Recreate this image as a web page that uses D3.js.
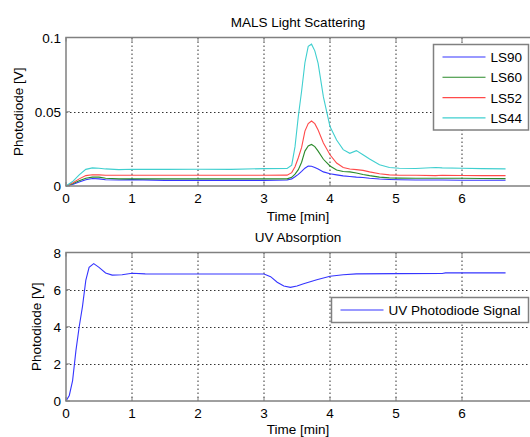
<!DOCTYPE html>
<html>
<head>
<meta charset="utf-8">
<script src="https://cdn.jsdelivr.net/npm/d3@7"></script>
<style>
  body { margin: 0; background: #fff; }
  svg { display: block; font-family: "Liberation Sans", Arial, sans-serif; }
  text { fill: #000; }
</style>
</head>
<body>
<svg id="chart" width="530" height="437"></svg>
<script>
// MALS light scattering (top panel)
var tMals = [0, 0.1, 0.2, 0.3, 0.4, 0.5, 0.6, 0.8, 1.0, 1.5, 2.0, 2.5, 3.0, 3.35, 3.42, 3.47, 3.52, 3.57, 3.62, 3.67,
             3.72, 3.77, 3.82, 3.9, 4.0, 4.1, 4.2, 4.3, 4.4, 4.5, 4.6, 4.75, 4.9, 5.05, 5.3, 5.6, 5.7, 6.0, 6.3, 6.66];
var ls90 = [0, 0.001, 0.0027, 0.0042, 0.005, 0.0048, 0.0042, 0.004, 0.0043, 0.0038, 0.0038, 0.0038, 0.0038, 0.004, 0.0048, 0.0062, 0.0078, 0.0098, 0.012, 0.0135,
            0.0133, 0.0125, 0.0115, 0.0095, 0.0082, 0.0075, 0.0068, 0.0064, 0.006, 0.0057, 0.0052, 0.0047, 0.0044, 0.0042, 0.004, 0.004, 0.004, 0.0039, 0.0039, 0.0039];
var ls60 = [0, 0.0015, 0.0035, 0.0052, 0.006, 0.006, 0.0052, 0.0048, 0.0048, 0.0048, 0.0048, 0.0048, 0.0048, 0.0048, 0.0058, 0.008, 0.011, 0.016, 0.0235, 0.027,
            0.028, 0.0265, 0.0235, 0.018, 0.0135, 0.0108, 0.0098, 0.0095, 0.0088, 0.0078, 0.007, 0.006, 0.0055, 0.0053, 0.0052, 0.0052, 0.0052, 0.0052, 0.005, 0.005];
var ls52 = [0, 0.002, 0.0048, 0.007, 0.0076, 0.0075, 0.0072, 0.0072, 0.0072, 0.0072, 0.0072, 0.0072, 0.0072, 0.0073, 0.009, 0.013, 0.019, 0.026, 0.037, 0.042,
            0.0438, 0.042, 0.0377, 0.029, 0.021, 0.0155, 0.0125, 0.0115, 0.011, 0.0105, 0.0095, 0.0082, 0.0075, 0.0072, 0.0072, 0.007, 0.0072, 0.0071, 0.007, 0.007];
var ls44 = [0, 0.003, 0.0075, 0.0112, 0.0122, 0.012, 0.0115, 0.011, 0.0113, 0.0112, 0.0113, 0.0112, 0.0117, 0.0118, 0.014, 0.0265, 0.047, 0.064, 0.083, 0.094,
            0.0955, 0.091, 0.0826, 0.060, 0.040, 0.031, 0.0245, 0.022, 0.0238, 0.021, 0.0182, 0.0143, 0.0125, 0.012, 0.0118, 0.0125, 0.0122, 0.012, 0.0117, 0.0115];
var malsNames = ["LS90", "LS60", "LS52", "LS44"];
var malsColors = ["#3535ff", "#2a8a2a", "#ff4a4a", "#3fcfcf"];

// UV absorption (bottom panel)
var tUv = [0, 0.05, 0.1, 0.15, 0.2, 0.25, 0.3, 0.35, 0.42, 0.5, 0.6, 0.7, 0.85, 1.0, 1.2, 1.5, 2.0, 2.5, 3.0,
           3.1, 3.2, 3.3, 3.4, 3.5, 3.6, 3.8, 4.0, 4.2, 4.4, 5.0, 5.7, 5.75, 6.66];
var uv = [0, 0.3, 1.1, 2.7, 4.0, 5.1, 6.5, 7.2, 7.4, 7.2, 6.9, 6.78, 6.8, 6.88, 6.85, 6.84, 6.84, 6.84, 6.84,
          6.7, 6.4, 6.2, 6.12, 6.2, 6.32, 6.53, 6.72, 6.8, 6.85, 6.86, 6.87, 6.9, 6.9];

var xTicks = [0, 1, 2, 3, 4, 5, 6];
var malsTicks = [0, 0.05, 0.1];
var uvTicks = [0, 2, 4, 6, 8];

var svg = d3.select("#chart");
var FS = "13.5px";

function drawPanel(p) {
  var g = svg.append("g");
  var x = d3.scaleLinear().domain([0, 7]).range([p.left, 528]);
  var y = d3.scaleLinear().domain(p.yDomain).range([p.bottom, p.top]);
  var right = 531;

  // grid
  g.selectAll(".gx").data(xTicks.slice(1)).enter().append("line")
    .attr("x1", d => x(d)).attr("x2", d => x(d))
    .attr("y1", p.top).attr("y2", p.bottom)
    .attr("stroke", "#333").attr("stroke-width", 1).attr("stroke-dasharray", "1.5,2.5");
  g.selectAll(".gy").data(p.yTicks.slice(1, -1)).enter().append("line")
    .attr("x1", p.left).attr("x2", right)
    .attr("y1", d => Math.round(y(d)) + 0.5).attr("y2", d => Math.round(y(d)) + 0.5)
    .attr("stroke", "#333").attr("stroke-width", 1).attr("stroke-dasharray", "1.5,2.5");

  // series
  var line = d3.line().x(d => x(d[0])).y(d => y(d[1]));
  p.series.forEach(function(s) {
    g.append("path")
      .datum(p.t.map((t, i) => [t, s.values[i]]))
      .attr("fill", "none").attr("stroke", s.color).attr("stroke-width", 1.1)
      .attr("d", line);
  });

  // frame
  g.append("rect").attr("x", p.left).attr("y", p.top)
    .attr("width", right - p.left).attr("height", p.bottom - p.top)
    .attr("fill", "none").attr("stroke", "#808080").attr("stroke-width", 1.5);

  // ticks (inward)
  g.selectAll(".tx").data(xTicks).enter().append("line")
    .attr("x1", d => x(d)).attr("x2", d => x(d))
    .attr("y1", p.bottom).attr("y2", p.bottom - 4)
    .attr("stroke", "#808080");
  g.selectAll(".tx2").data(xTicks).enter().append("line")
    .attr("x1", d => x(d)).attr("x2", d => x(d))
    .attr("y1", p.top).attr("y2", p.top + 4)
    .attr("stroke", "#808080");
  g.selectAll(".ty").data(p.yTicks).enter().append("line")
    .attr("x1", p.left).attr("x2", p.left + 4)
    .attr("y1", d => y(d)).attr("y2", d => y(d))
    .attr("stroke", "#808080");

  // tick labels
  g.selectAll(".lx").data(xTicks).enter().append("text")
    .attr("x", d => x(d)).attr("y", p.bottom + 17)
    .attr("text-anchor", "middle").style("font-size", FS)
    .text(d => d);
  g.selectAll(".ly").data(p.yTicks).enter().append("text")
    .attr("x", p.left - 5).attr("y", d => y(d) + 5)
    .attr("text-anchor", "end").style("font-size", FS)
    .text(p.yFormat);

  // titles & labels
  g.append("text").attr("x", 298).attr("y", p.top - 11)
    .attr("text-anchor", "middle").style("font-size", FS).text(p.title);
  g.append("text").attr("x", 298).attr("y", p.bottom + p.xLabelDy)
    .attr("text-anchor", "middle").style("font-size", FS).text("Time [min]");
  g.append("text")
    .attr("transform", "translate(" + p.yLabelX + "," + ((p.top + p.bottom) / 2) + ") rotate(-90)")
    .attr("text-anchor", "middle").style("font-size", FS).text("Photodiode [V]");

  // legend
  var L = p.legend;
  var lg = g.append("g");
  lg.append("rect").attr("x", L.x).attr("y", L.y).attr("width", L.w).attr("height", L.h)
    .attr("fill", "#fff").attr("stroke", "#808080").attr("stroke-width", 1.5);
  p.series.forEach(function(s, i) {
    var cy = L.y + L.first + i * 20.3;
    lg.append("line").attr("x1", L.x + L.lx1).attr("x2", L.x + L.lx2)
      .attr("y1", cy).attr("y2", cy)
      .attr("stroke", s.color).attr("stroke-width", 1.1);
    lg.append("text").attr("x", L.x + L.lx2 + 5).attr("y", cy + 5)
      .style("font-size", FS).text(s.name);
  });
}

drawPanel({
  left: 66, top: 37.5, bottom: 186,
  yDomain: [0, 0.1], yTicks: malsTicks,
  yFormat: d => d === 0 ? "0" : String(d),
  t: tMals,
  series: malsNames.map((n, i) => ({ name: n, color: malsColors[i], values: [ls90, ls60, ls52, ls44][i] })),
  title: "MALS Light Scattering", yLabelX: 23, xLabelDy: 35,
  legend: { x: 433.5, y: 44.5, w: 95, h: 85.5, first: 12.5, lx1: 9, lx2: 52 }
});

drawPanel({
  left: 66, top: 252.5, bottom: 401,
  yDomain: [0, 8], yTicks: uvTicks,
  yFormat: d => String(d),
  t: tUv,
  series: [{ name: "UV Photodiode Signal", color: "#3535ff", values: uv }],
  title: "UV Absorption", yLabelX: 41, xLabelDy: 32.5,
  legend: { x: 331.5, y: 297.5, w: 197, h: 25, first: 12.5, lx1: 9, lx2: 52 }
});
</script>
</body>
</html>
